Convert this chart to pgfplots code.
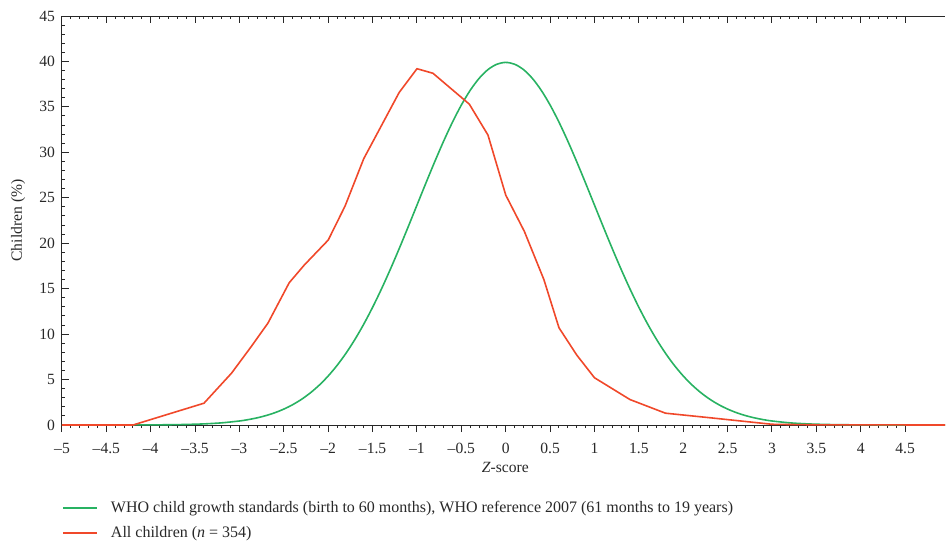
\documentclass[border=0pt]{standalone}
\usepackage{pgfplots}
\pgfplotsset{compat=1.18}
\usepackage{fontspec}
\setmainfont{Liberation Serif}
\definecolor{whogreen}{RGB}{40,178,98}
\definecolor{allred}{RGB}{240,72,42}
\definecolor{axgray}{RGB}{40,40,40}
\newcommand{\chfont}{\fontsize{7.8}{9.4}\selectfont}
\newcommand{\lgfont}{\fontsize{8}{9.6}\selectfont}
\begin{document}
\begin{tikzpicture}
\useasboundingbox (-31pt,-58.5pt) rectangle (442.5pt,212.5pt);
\begin{axis}[
  at={(0,0)}, anchor=south west,
  scale only axis, width=441.5pt, height=204.5pt,
  xmin=-5, xmax=4.95, ymin=0, ymax=45,
  axis x line*=bottom, axis y line*=left,
  axis line style={-, axgray, line width=0.5pt},
  xtick={-5,-4.5,-4,-3.5,-3,-2.5,-2,-1.5,-1,-0.5,0,0.5,1,1.5,2,2.5,3,3.5,4,4.5},
  xticklabels={–5,–4.5,–4,–3.5,–3,–2.5,–2,–1.5,–1,–0.5,0,0.5,1,1.5,2,2.5,3,3.5,4,4.5},
  ytick={0,5,10,15,20,25,30,35,40,45},
  minor x tick num=4, minor y tick num=4,
  xtick align=outside, ytick align=inside,
  major tick length=3.5pt, minor tick length=1.6pt,
  tick style={axgray, line width=0.5pt},
  /pgf/number format/assume math mode=true,
  tick label style={font=\chfont, text=axgray},
  xticklabel style={yshift=-2pt},
  xlabel={\textit{Z}-score},
  ylabel={Children (\%)},
  every axis y label/.style={at={(axis description cs:-0.0498,0.5)}, rotate=90, anchor=center, font=\chfont, text=axgray},
  every axis x label/.style={at={(axis description cs:0.502,-0.1027)}, anchor=center, font=\chfont, text=axgray},
  legend style={at={(axis description cs:0,-0.175)}, anchor=north west, draw=none, fill=none,
    font=\lgfont, text=axgray, legend cell align=left, row sep=1.5pt, inner sep=0pt},
  legend image code/.code={\draw[#1] (0pt,0pt) -- (17pt,0pt); \path (21.5pt,0pt);},
  clip=true,
]
\addplot[whogreen, line width=0.8pt, smooth] coordinates {
(-5,0.0001) (-4.8,0.0004) (-4.6,0.001) (-4.4,0.0025) (-4.2,0.0059) (-4,0.0134)
(-3.8,0.0292) (-3.6,0.0612) (-3.4,0.1232) (-3.2,0.2384) (-3,0.4432)
(-2.9,0.595) (-2.8,0.7915) (-2.7,1.042) (-2.6,1.3583) (-2.5,1.753) (-2.4,2.2395)
(-2.3,2.833) (-2.2,3.5475) (-2.1,4.398) (-2,5.3991) (-1.9,6.562) (-1.8,7.895)
(-1.7,9.405) (-1.6,11.0921) (-1.5,12.952) (-1.4,14.9727) (-1.3,17.137) (-1.2,19.4186)
(-1.1,21.785) (-1,24.1971) (-0.9,26.609) (-0.8,28.9692) (-0.7,31.225) (-0.6,33.3225)
(-0.5,35.207) (-0.4,36.827) (-0.3,38.139) (-0.2,39.1043) (-0.1,39.695) (0,39.8942)
(0.1,39.695) (0.2,39.1043) (0.3,38.139) (0.4,36.827) (0.5,35.207) (0.6,33.3225)
(0.7,31.225) (0.8,28.9692) (0.9,26.609) (1,24.1971) (1.1,21.785) (1.2,19.4186)
(1.3,17.137) (1.4,14.9727) (1.5,12.952) (1.6,11.0921) (1.7,9.405) (1.8,7.895)
(1.9,6.562) (2,5.3991) (2.1,4.398) (2.2,3.5475) (2.3,2.833) (2.4,2.2395)
(2.5,1.753) (2.6,1.3583) (2.7,1.042) (2.8,0.7915) (2.9,0.595) (3,0.4432)
(3.2,0.2384) (3.4,0.1232) (3.6,0.0612) (3.8,0.0292) (4,0.0134) (4.2,0.0059)
(4.4,0.0025) (4.6,0.001) (4.8,0.0004) (4.95,0.0001)
};
\addlegendentry{WHO child growth standards (birth to 60 months), WHO reference 2007 (61 months to 19 years)}
\addplot[allred, line width=0.8pt] coordinates {
(-5,0) (-4.2,0) (-3.7,1.5) (-3.4,2.4) (-3.09,5.7) (-2.87,8.6) (-2.68,11.2)
(-2.44,15.65) (-2.27,17.6) (-2.0,20.35) (-1.81,24.1) (-1.6,29.3) (-1.2,36.6)
(-1.0,39.2) (-0.82,38.7) (-0.41,35.3) (-0.2,31.9) (0,25.3) (0.21,21.3) (0.43,16)
(0.6,10.7) (0.8,7.7) (1.0,5.2) (1.2,4.0) (1.4,2.8) (1.8,1.3) (2.3,0.8) (3.0,0.08)
(3.5,0.02) (4.95,0)
};
\addlegendentry{All children (\textit{n} = 354)}
\end{axis}
\begin{axis}[
  at={(0,0)}, anchor=south west,
  scale only axis, width=441.5pt, height=204.5pt,
  xmin=-5, xmax=4.95, ymin=0, ymax=45,
  axis x line*=top, axis y line=none,
  axis line style={-, axgray, line width=0.5pt},
  xtick={-5,-4.5,-4,-3.5,-3,-2.5,-2,-1.5,-1,-0.5,0,0.5,1,1.5,2,2.5,3,3.5,4,4.5},
  xticklabels={},
  minor x tick num=4,
  xtick align=inside,
  major tick length=3.5pt, minor tick length=1.6pt,
  tick style={axgray, line width=0.5pt},
]
\end{axis}
\end{tikzpicture}
\end{document}
